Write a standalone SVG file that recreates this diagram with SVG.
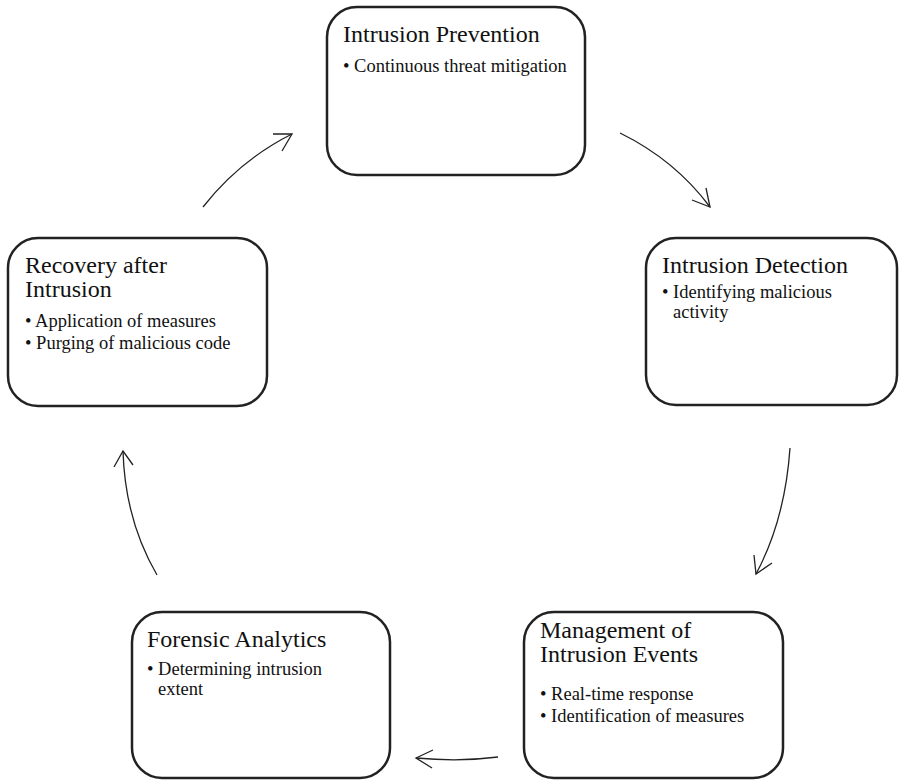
<svg xmlns="http://www.w3.org/2000/svg" width="899" height="780" viewBox="0 0 899 780">
<style>
.box{fill:#fff;stroke:#222;stroke-width:2.5}
.t{font-family:"Liberation Serif",serif;font-size:24px;fill:#111}
.b{font-family:"Liberation Serif",serif;font-size:18.5px;fill:#111}
.c{fill:none;stroke:#222;stroke-width:1.3}
</style>
<rect width="899" height="780" fill="#fff"/>
<g id="prevention">
<rect class="box" x="327" y="7" width="258" height="168" rx="30"/>
<text class="t" x="343" y="42">Intrusion Prevention</text>
<text class="b" x="343" y="72">• Continuous threat mitigation</text>
</g>
<g id="detection">
<rect class="box" x="646" y="238" width="251" height="167" rx="30"/>
<text class="t" x="662" y="273">Intrusion Detection</text>
<text class="b" x="662" y="298">• Identifying malicious</text>
<text class="b" x="673" y="318">activity</text>
</g>
<g id="management">
<rect class="box" x="524" y="612" width="259" height="166" rx="30"/>
<text class="t" x="540" y="638">Management of</text>
<text class="t" x="540" y="662">Intrusion Events</text>
<text class="b" x="540" y="700">• Real-time response</text>
<text class="b" x="540" y="722">• Identification of measures</text>
</g>
<g id="forensic">
<rect class="box" x="132" y="612" width="258" height="166" rx="30"/>
<text class="t" x="147" y="647">Forensic Analytics</text>
<text class="b" x="147" y="675">• Determining intrusion</text>
<text class="b" x="158" y="695">extent</text>
</g>
<g id="recovery">
<rect class="box" x="8" y="238" width="259" height="168" rx="30"/>
<text class="t" x="25" y="273">Recovery after</text>
<text class="t" x="25" y="297">Intrusion</text>
<text class="b" x="25" y="327">• Application of measures</text>
<text class="b" x="25" y="349">• Purging of malicious code</text>
</g>
<g id="connectors">
<path class="c" d="M203,207 Q240,160 292,134"/>
<path class="c" d="M273,134 L292,134 L282,151"/>
<path class="c" d="M620,133 Q675,160 710,207"/>
<path class="c" d="M692,200 L710,207 L706,188"/>
<path class="c" d="M790,448 Q785,520 756,574"/>
<path class="c" d="M754,555 L756,574 L772,563"/>
<path class="c" d="M498,757 Q460,762 416,758"/>
<path class="c" d="M433,750 L416,758 L432,768"/>
<path class="c" d="M157,575 Q125,520 123,451"/>
<path class="c" d="M114,467 L123,451 L133,465"/>
</g>
</svg>
